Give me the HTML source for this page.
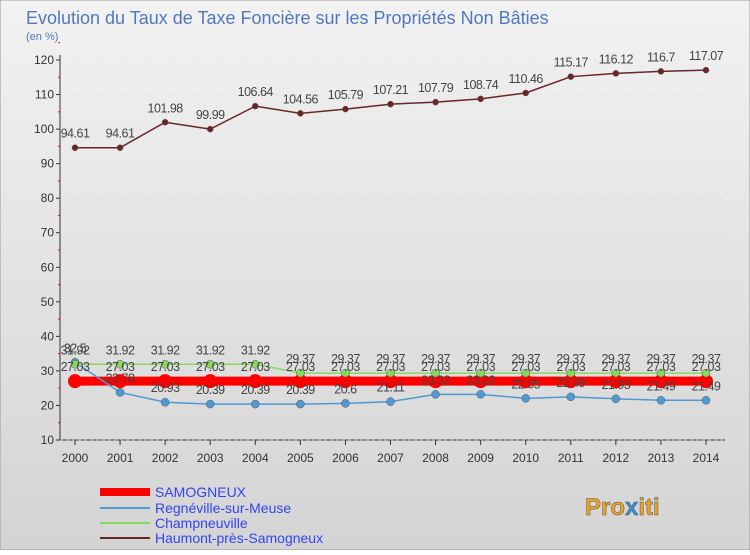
<!DOCTYPE html>
<html><head><meta charset="utf-8"><style>
body{margin:0;width:750px;height:550px;overflow:hidden;font-family:"Liberation Sans",sans-serif}
</style></head><body>
<svg width="750" height="550" xmlns="http://www.w3.org/2000/svg" id="svg">
<defs><linearGradient id="bg" x1="0" y1="0" x2="0" y2="1"><stop offset="0" stop-color="#f2f2f2"/><stop offset="1" stop-color="#d4d4d4"/></linearGradient></defs>
<rect x="0" y="0" width="750" height="550" fill="url(#bg)" stroke="#999"/>
<text x="26" y="24" font-size="18" fill="#5078c0">Evolution du Taux de Taxe Foncière sur les Propriétés Non Bâties</text>
<text x="26" y="40" font-size="11" fill="#5078c0">(en %)</text>
<g id="axes"></g><g id="series"></g><g id="labels"></g>
<g font-size="14" fill="#3344ee">
<rect x="100" y="488" width="50" height="8" fill="#ff0000"/>
<text x="155" y="497">SAMOGNEUX</text>
<line x1="100" y1="508" x2="150" y2="508" stroke="#4f9ad4" stroke-width="2"/>
<text x="155" y="513">Regnéville-sur-Meuse</text>
<line x1="100" y1="523" x2="150" y2="523" stroke="#88d860" stroke-width="2"/>
<text x="155" y="528">Champneuville</text>
<line x1="100" y1="538" x2="150" y2="538" stroke="#6b2525" stroke-width="2"/>
<text x="155" y="543">Haumont-près-Samogneux</text>
</g>
<text x="585" y="515" font-size="24" font-weight="bold" fill="#f0a020" stroke="#555" stroke-width="0.5">Pro<tspan fill="#3b8fd6">x</tspan>iti</text>
</svg>
<script>
const years=[2000,2001,2002,2003,2004,2005,2006,2007,2008,2009,2010,2011,2012,2013,2014];
const yTicks=[10,20,30,40,50,60,70,80,90,100,110,120];
const samogneux=[27.03,27.03,27.03,27.03,27.03,27.03,27.03,27.03,27.03,27.03,27.03,27.03,27.03,27.03,27.03];
const regneville=[32.5,23.78,20.93,20.39,20.39,20.39,20.6,21.11,23.22,23.22,22.05,22.49,21.93,21.49,21.49];
const champneuville=[31.92,31.92,31.92,31.92,31.92,29.37,29.37,29.37,29.37,29.37,29.37,29.37,29.37,29.37,29.37];
const haumont=[94.61,94.61,101.98,99.99,106.64,104.56,105.79,107.21,107.79,108.74,110.46,115.17,116.12,116.7,117.07];
const NS="http://www.w3.org/2000/svg";
const X=i=>75+i*(706-75)/(years.length-1);
const Y=v=>440-(v-10)*(380/110);
function mk(tag,attrs,parent){const e=document.createElementNS(NS,tag);for(const k in attrs)e.setAttribute(k,attrs[k]);document.getElementById(parent).appendChild(e);return e;}
let e;
e=mk('line',{x1:60,y1:55,x2:60,y2:440,stroke:'#333'},'axes');

e=mk('line',{x1:60,y1:440,x2:725,y2:440,stroke:'#333'},'axes');

yTicks.forEach(v=>{
 e=mk('line',{x1:56,y1:Y(v),x2:60,y2:Y(v),stroke:'#333'},'axes');
 
 e=mk('line',{x1:60,y1:Y(v),x2:725,y2:Y(v),stroke:'#d8d8d8','stroke-width':0.5,'stroke-dasharray':'3,3'},'axes');
 
 e=mk('text',{x:54,y:Y(v)+4,'font-size':12,'text-anchor':'end',fill:'#333'},'axes');e.textContent=v;
 
 e=mk('line',{x1:58,y1:Y(v+5),x2:60,y2:Y(v+5),stroke:'#f00'},'axes');
 
});
years.forEach((y,i)=>{
 e=mk('line',{x1:X(i),y1:440,x2:X(i),y2:445,stroke:'#333'},'axes');
 
 e=mk('text',{x:X(i),y:462,'font-size':12,'text-anchor':'middle',fill:'#333'},'axes');e.textContent=y;
 
});
function series(vals,name,color,w,r,dy){
 const p=vals.map((v,i)=>X(i)+','+Y(v)).join(' ');
 e=mk('polyline',{points:p,fill:'none',stroke:color,'stroke-width':w},'series');
 
 vals.forEach((v,i)=>{
  e=mk('circle',{cx:X(i),cy:Y(v),r:r,fill:color,stroke:'#555','stroke-width':r>6?0:0.5},'series');
  
  e=mk('text',{x:X(i),y:Y(v)+dy,'font-size':12.5,'text-anchor':'middle',fill:'#444','letter-spacing':'-0.5'},'labels');e.textContent=v;
  
 });
}
series(samogneux,'samogneux','#ff0000',9,7,-10);
series(regneville,'regneville','#4f9ad4',1.5,4,-10);
series(champneuville,'champneuville','#88d860',1.5,4,-10);
series(haumont,'haumont','#6b2525',1.5,3,-10);
</script>
</body></html>
